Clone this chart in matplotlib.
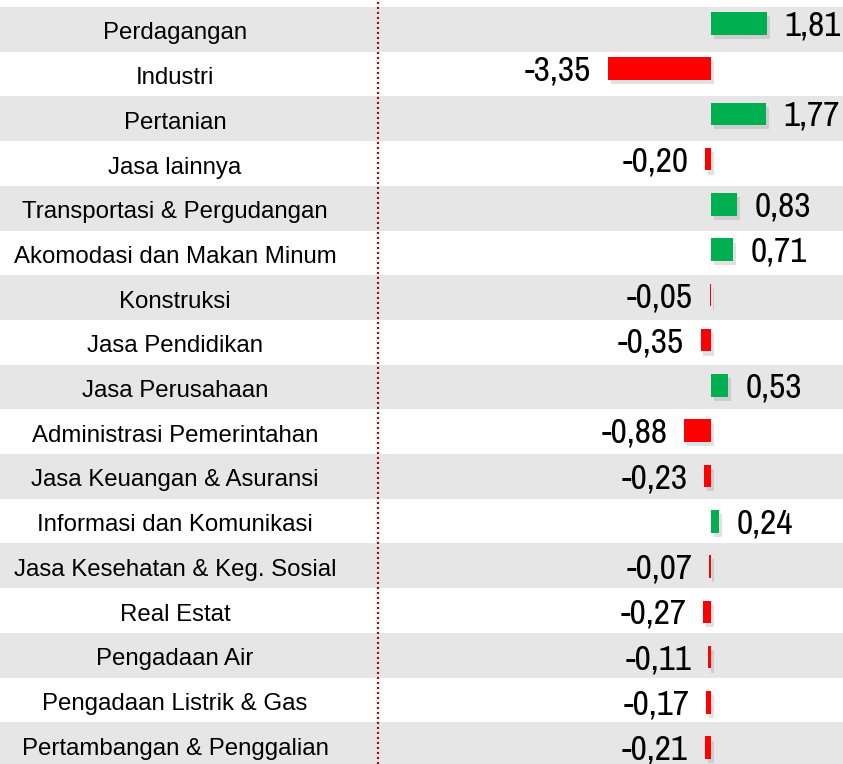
import matplotlib
matplotlib.use('Agg')
import matplotlib.pyplot as plt
import matplotlib.patheffects as pe

sektor = ['Perdagangan', 'Industri', 'Pertanian', 'Jasa lainnya',
          'Transportasi & Pergudangan', 'Akomodasi dan Makan Minum',
          'Konstruksi', 'Jasa Pendidikan', 'Jasa Perusahaan',
          'Administrasi Pemerintahan', 'Jasa Keuangan & Asuransi',
          'Informasi dan Komunikasi', 'Jasa Kesehatan & Keg. Sosial',
          'Real Estat', 'Pengadaan Air', 'Pengadaan Listrik & Gas',
          'Pertambangan & Penggalian']
nilai = [1.81, -3.35, 1.77, -0.20, 0.83, 0.71, -0.05, -0.35, 0.53,
         -0.88, -0.23, 0.24, -0.07, -0.27, -0.11, -0.17, -0.21]

# narrow font for the values, category labels get Liberation Sans explicitly
plt.rcParams['font.family'] = ['Archivo Narrow', 'Liberation Sans', 'DejaVu Sans']

fig = plt.figure(figsize=(8.43, 7.64), dpi=100)
ax = fig.add_axes([0, 0, 1, 1])
ax.set_xlim(-23.1, 4.27)
ax.set_ylim(16.435, -0.657)
ax.axis('off')

n = len(sektor)
for i in range(n):
    if i % 2 == 0:
        ax.axhspan(i - 0.5, i + 0.5, color='#e6e6e6', zorder=0, lw=0)

# bars sit on a slightly different pitch than the bands
ypos = [(23.3 + 45.27 * i - 29.35) / 44.7 for i in range(n)]
warna = ['#00b050' if v > 0 else '#ff0000' for v in nilai]
bars = ax.barh(ypos, nilai, height=0.505, color=warna, zorder=3)
for b in bars:
    b.set_path_effects([pe.SimplePatchShadow(offset=(2, -3), shadow_rgbFace='#777777', alpha=0.22),
                        pe.Normal()])

for i, v in enumerate(nilai):
    lab = ('%.2f' % v).replace('.', ',')
    if v > 0:
        ax.text(v + 0.57, ypos[i] + 0.27, lab, ha='left', va='baseline',
                fontsize=25.5, zorder=4)
    else:
        ax.text(v - 0.55, ypos[i] + 0.27, lab, ha='right', va='baseline',
                fontsize=25.5, zorder=4)
    ax.text(175 / 843, i + 0.225, sektor[i], transform=ax.get_yaxis_transform(),
            ha='center', va='baseline', fontsize=17.3, family='Liberation Sans', zorder=4)

ax.axvline(x=-23.1 + 378 / 30.8, color='#c00000', ls=(0, (1, 1.4)), lw=1.5, zorder=2)

fig.savefig('out.png', dpi=100)
